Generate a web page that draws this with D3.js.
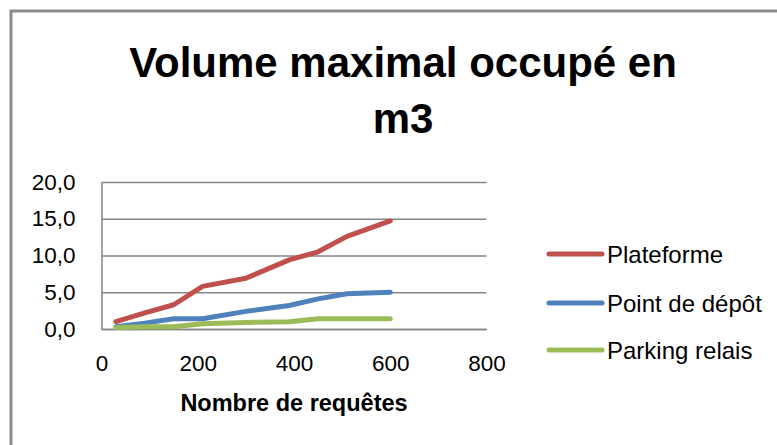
<!DOCTYPE html>
<html>
<head>
<meta charset="utf-8">
<script src="https://cdn.jsdelivr.net/npm/d3@7"></script>
<style>
  body { margin: 0; background: #fff; }
  text { font-family: "Liberation Sans", Arial, sans-serif; fill: #000; }
</style>
</head>
<body>
<div class="chart-div"></div>
<script>
// data
const requetes = [30, 90, 150, 210, 300, 390, 450, 510, 600];
const plateforme = [1.0, 2.2, 3.3, 5.8, 6.9, 9.4, 10.5, 12.6, 14.7];
const pointDepot = [0.3, 0.8, 1.4, 1.4, 2.4, 3.2, 4.1, 4.8, 5.0];
const parkingRelais = [0.2, 0.3, 0.3, 0.7, 0.9, 1.0, 1.4, 1.4, 1.4];
const seriesNames = ["Plateforme", "Point de dépôt", "Parking relais"];
const seriesColors = ["#C0504D", "#4F81BD", "#9BBB59"];
const xTicks = [0, 200, 400, 600, 800];
const yTicks = [0, 5, 10, 15, 20];
const titleLines = ["Volume maximal occupé en", "m3"];
const xTitle = "Nombre de requêtes";

const svgWidth = 777;
const svgHeight = 445;
// plot area inside the svg
const plot = { left: 101.5, right: 486.5, top: 182, bottom: 329 };

const series = [plateforme, pointDepot, parkingRelais].map((vals, i) => ({
  name: seriesNames[i],
  color: seriesColors[i],
  values: vals.map((v, j) => ({ x: requetes[j], y: v }))
}));

const svg = d3
  .select(".chart-div")
  .append("svg")
  .attr("width", svgWidth)
  .attr("height", svgHeight);

// chart border
svg
  .append("rect")
  .attr("x", 11)
  .attr("y", 11)
  .attr("width", 820)
  .attr("height", 520)
  .attr("fill", "#fff")
  .attr("stroke", "#8c8c8c")
  .attr("stroke-width", 3);

// title
svg
  .append("text")
  .attr("text-anchor", "middle")
  .style("font-weight", "bold")
  .style("font-size", "42px")
  .selectAll("tspan")
  .data(titleLines)
  .join("tspan")
  .attr("x", 403)
  .attr("y", (d, i) => 77 + i * 56)
  .text(d => d);

const x = d3.scaleLinear().domain([0, 800]).range([plot.left, plot.right]);
const y = d3.scaleLinear().domain([0, 20]).range([plot.bottom, plot.top]);
const fmt = d => d3.format(".1f")(d).replace(".", ",");

// horizontal gridlines
svg
  .append("g")
  .attr("class", "grid")
  .attr("transform", "translate(" + plot.left + ",0)")
  .call(
    d3.axisLeft(y)
      .tickValues(yTicks)
      .tickSize(-(plot.right - plot.left))
      .tickFormat("")
  )
  .call(g => g.select(".domain").remove())
  .call(g => g.selectAll("line").attr("stroke", "#868686").attr("stroke-width", 1.5));

// y axis line and labels
svg
  .append("g")
  .attr("transform", "translate(" + plot.left + ",0)")
  .call(d3.axisLeft(y).tickValues(yTicks).tickSize(0).tickPadding(26).tickFormat(fmt))
  .call(g => g.select(".domain").attr("stroke", "#868686").attr("stroke-width", 1.5))
  .call(g =>
    g.selectAll("text")
      .style("font-family", "'Liberation Sans', Arial, sans-serif")
      .style("font-size", "22.5px")
      .attr("fill", "#000")
  );

// x axis line and labels
svg
  .append("g")
  .attr("transform", "translate(0," + plot.bottom + ")")
  .call(d3.axisBottom(x).tickValues(xTicks).tickSize(0).tickPadding(26).tickFormat(d3.format("d")))
  .call(g => g.select(".domain").attr("stroke", "#868686").attr("stroke-width", 1.5))
  .call(g =>
    g.selectAll("text")
      .style("font-family", "'Liberation Sans', Arial, sans-serif")
      .style("font-size", "22.5px")
      .attr("fill", "#000")
  );

// x axis title
svg
  .append("text")
  .attr("x", (plot.left + plot.right) / 2)
  .attr("y", 411)
  .attr("text-anchor", "middle")
  .style("font-weight", "bold")
  .style("font-size", "23.5px")
  .text(xTitle);

// the lines
const line = d3
  .line()
  .x(d => x(d.x))
  .y(d => y(d.y));

svg
  .append("g")
  .selectAll("path")
  .data(series)
  .join("path")
  .attr("d", d => line(d.values))
  .attr("fill", "none")
  .attr("stroke", d => d.color)
  .attr("stroke-width", 5)
  .attr("stroke-linejoin", "round")
  .attr("stroke-linecap", "round");

// legend
const legend = svg
  .append("g")
  .selectAll("g")
  .data(series)
  .join("g")
  .attr("transform", (d, i) => "translate(549," + [254, 303, 350][i] + ")");

legend
  .append("line")
  .attr("x1", 0)
  .attr("x2", 53)
  .attr("stroke", d => d.color)
  .attr("stroke-width", 5)
  .attr("stroke-linecap", "round");

legend
  .append("text")
  .attr("x", 58)
  .attr("dy", "0.36em")
  .style("font-size", "24px")
  .text(d => d.name);
</script>
</body>
</html>
